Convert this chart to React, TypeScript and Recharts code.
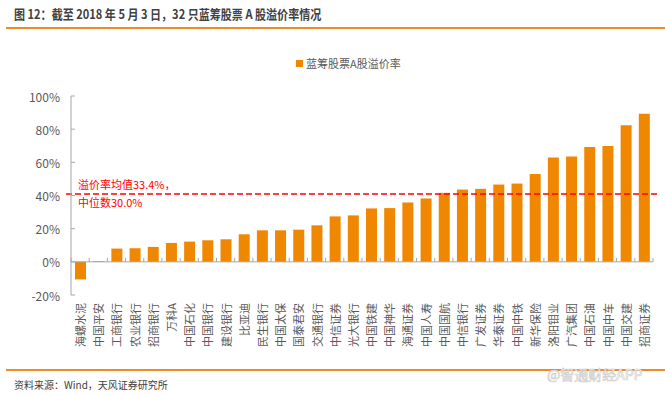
import { BarChart, Bar, XAxis, YAxis, ReferenceLine } from "recharts"

const stocks = ["海螺水泥", "中国平安", "工商银行", "农业银行", "招商银行", "万科A", "中国石化", "中国银行", "建设银行", "比亚迪", "民生银行", "中国太保", "国泰君安", "交通银行", "中信证券", "光大银行", "中国铁建", "中国神华", "海通证券", "中国人寿", "中国国航", "中信银行", "广发证券", "华泰证券", "中国中铁", "新华保险", "洛阳钼业", "广汽集团", "中国石油", "中国中车", "中国交建", "招商证券"]
const premium = [-10.6, 0.4, 8.0, 8.2, 9.0, 11.4, 12.2, 13.0, 13.6, 16.6, 19.0, 19.0, 19.4, 22.0, 27.4, 28.0, 32.2, 32.4, 35.8, 38.2, 41.6, 43.6, 44.0, 46.6, 47.2, 53.0, 62.9, 63.5, 69.3, 69.9, 82.3, 89.3]
const yTicks = [-20, 0, 20, 40, 60, 80, 100]
const markLevel = 40.9
const meanText = "溢价率均值33.4%，"
const medianText = "中位数30.0%"

const data = stocks.map((name, i) => ({ name, value: premium[i] }))

const W = 665, H = 396
const M = { top: 96, right: 12, left: 0, bottom: 41 }
const Y_W = 71, X_H = 60
const plotH = H - M.top - M.bottom - X_H
const zeroY = M.top + plotH * (100 / 120)
const band = (W - M.right - Y_W) / stocks.length
const AXIS = "#a6a6a6"
const TXT = "#595959"
const FONT = "'Noto Sans CJK SC', 'Noto Sans', sans-serif"

const XTick = ({ x, y, payload, index }: any) => (
  <g>
    <line x1={x - band / 2} y1={zeroY - 4} x2={x - band / 2} y2={zeroY} stroke={AXIS} />
    {index === stocks.length - 1 && <line x1={x + band / 2} y1={zeroY - 4} x2={x + band / 2} y2={zeroY} stroke={AXIS} />}
    <text x={x} y={y} transform={`rotate(-90 ${x} ${y})`} textAnchor="end" dominantBaseline="central" fill={TXT} fontSize={11} fontFamily={FONT}>{payload.value}</text>
  </g>
)

const YTick = ({ x, y, payload }: any) => (
  <g>
    <line x1={x} y1={y} x2={x + 4} y2={y} stroke={AXIS} />
    <text x={x - 11} y={y} textAnchor="end" dominantBaseline="central" fill={TXT} fontSize={12} fontFamily={FONT}>{payload.value}%</text>
  </g>
)

const DashLine = ({ x1, y1, x2, y2 }: any) => (
  <line x1={x1 - 5} y1={y1} x2={x2 + 4} y2={y2} stroke="#ff0000" strokeWidth={1.5} strokeDasharray="6 3" />
)

export default function App() {
  return (
    <div style={{ position: "absolute", left: 0, top: 0, width: W, height: H, background: "#fff", fontFamily: FONT }}>
      <div style={{ position: "absolute", left: 14, top: 4, fontSize: 13, fontWeight: 700, color: "#404040", whiteSpace: "nowrap", transform: "scaleX(0.85)", transformOrigin: "0 0" }}>
        图 12：截至 2018 年 5 月 3 日，32 只蓝筹股票 A 股溢价率情况
      </div>
      <div style={{ position: "absolute", left: 6, top: 27, width: W - 6, height: 2, background: "#f08a24" }} />
      <BarChart width={W} height={H} data={data} margin={M} barSize={11}>
        <XAxis dataKey="name" axisLine={false} tickLine={false} tickSize={0} tickMargin={8} height={X_H} interval={0} tick={<XTick />} />
        <YAxis domain={[-20, 100]} ticks={yTicks} width={Y_W} axisLine={{ stroke: AXIS }} tickLine={false} tickSize={0} tickMargin={0} tick={<YTick />} />
        <ReferenceLine y={0} stroke={AXIS} strokeWidth={1} />
        <Bar dataKey="value" fill="#f08700" isAnimationActive={false} />
        <ReferenceLine y={markLevel} shape={<DashLine />} />
      </BarChart>
      <div style={{ position: "absolute", left: 296, top: 60, width: 7, height: 7, background: "#f08700" }} />
      <div style={{ position: "absolute", left: 306, top: 55, fontSize: 11, color: TXT, whiteSpace: "nowrap" }}>蓝筹股票A股溢价率</div>
      <div style={{ position: "absolute", left: 78, top: 175, fontSize: 11, color: "#ff0000", lineHeight: "18px", whiteSpace: "nowrap" }}>
        <div>{meanText}</div>
        <div>{medianText}</div>
      </div>
      <div style={{ position: "absolute", left: 6, top: 369, width: W - 6, height: 2, background: "#f08a24" }} />
      <div style={{ position: "absolute", left: 14, top: 377, fontSize: 10, color: "#404040", whiteSpace: "nowrap" }}>资料来源：Wind，天风证券研究所</div>
      <div style={{ position: "absolute", left: 547, top: 364, fontSize: 14, color: "#fff", WebkitTextStroke: "0.7px #cfcfcf", whiteSpace: "nowrap" }}>@智通财经APP</div>
    </div>
  )
}
